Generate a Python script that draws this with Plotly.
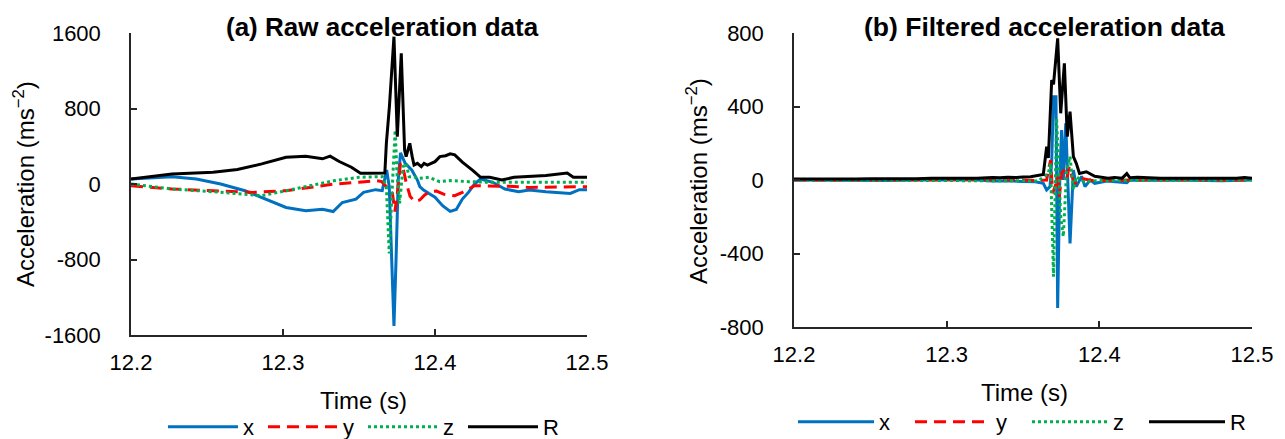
import plotly.graph_objects as go

# ---------------- data: (a) raw ----------------
t_R_a = [12.200, 12.227, 12.254, 12.270, 12.286, 12.302, 12.315, 12.326, 12.331, 12.337, 12.345, 12.351,
         12.355, 12.367, 12.368, 12.370, 12.373, 12.3745, 12.3752, 12.3778, 12.380, 12.381, 12.3834, 12.385,
         12.3862, 12.3884, 12.391, 12.3928, 12.395, 12.400, 12.4032, 12.407, 12.410, 12.413, 12.418, 12.425,
         12.430, 12.436, 12.444, 12.452, 12.462, 12.473, 12.487, 12.491, 12.500]
R_a = [53, 107, 124, 153, 213, 284, 295, 267, 295, 238, 178, 114,
       114, 117, 431, 820, 1561, 643, 501, 1385, 360, 290, 431, 290,
       201, 219, 184, 219, 201, 237, 290, 300, 320, 309, 231, 142,
       71, 71, 43, 71, 78, 89, 117, 71, 71]

t_x_a = [12.200, 12.227, 12.243, 12.259, 12.275, 12.288, 12.302, 12.315, 12.326, 12.333, 12.339, 12.348,
         12.353, 12.361, 12.3653, 12.3682, 12.3699, 12.3716, 12.373, 12.3743, 12.3758, 12.3773, 12.3804,
         12.3847, 12.3884, 12.390, 12.3925, 12.3958, 12.400, 12.405, 12.410, 12.414, 12.418, 12.422, 12.426,
         12.430, 12.438, 12.446, 12.455, 12.462, 12.473, 12.489, 12.495, 12.500]
x_a = [53, 78, 53, 0, -71, -160, -249, -284, -267, -292, -196, -160,
       -89, -60, -70, 148, -28, -841, -1505, -841, 42, 329, 219,
       148, 42, -28, -64, -99, -140, -230, -290, -270, -160, -89, 0,
       53, 18, -53, -82, -64, -82, -100, -60, -60]

t_y_a = [12.200, 12.227, 12.254, 12.280, 12.302, 12.318, 12.334, 12.350, 12.361, 12.365, 12.3703, 12.372,
         12.3736, 12.375, 12.3773, 12.3788, 12.3809, 12.3836, 12.3866, 12.390, 12.3932, 12.397, 12.401,
         12.406, 12.413, 12.418, 12.426, 12.436, 12.449, 12.462, 12.484, 12.500]
y_a = [-18, -53, -71, -89, -71, -36, 0, 18, 36, 25, -64, -99,
       -293, -130, 219, 184, 25, -130, -187, -170, -117, -80, -75,
       -110, -124, -89, -18, -18, -25, -36, -28, -28]

t_z_a = [12.200, 12.227, 12.254, 12.275, 12.286, 12.302, 12.318, 12.334, 12.350, 12.3653, 12.368, 12.3699,
         12.3716, 12.3738, 12.375, 12.3767, 12.379, 12.3809, 12.383, 12.386, 12.390, 12.396, 12.403, 12.410,
         12.422, 12.436, 12.462, 12.500]
z_a = [0, -53, -82, -107, -124, -71, -18, 36, 71, 78, -28, -735,
       -130, 572, 113, -205, 184, 219, 78, 78, 60, 71, 25, 36,
       25, 18, 18, 18]

# ---------------- data: (b) filtered ----------------
t_R_b = [12.200, 12.210, 12.220, 12.230, 12.240, 12.250, 12.260, 12.270, 12.280, 12.290, 12.300, 12.310,
         12.320, 12.330, 12.335, 12.340, 12.345, 12.350, 12.355, 12.3633, 12.3655, 12.3666, 12.3688, 12.370,
         12.3727, 12.3747, 12.3771, 12.379, 12.3808, 12.383, 12.3849, 12.387, 12.3915, 12.397, 12.4057,
         12.410, 12.415, 12.418, 12.420, 12.425, 12.430, 12.440, 12.450, 12.460, 12.470, 12.480, 12.490,
         12.495, 12.500]
R_b = [6, 5, 7, 6, 5, 7, 6, 8, 7, 9, 8, 9,
       10, 14, 12, 15, 13, 16, 18, 30, 181, 120, 544, 520,
       771, 363, 635, 236, 372, 127, 91, 36, 45, 20, 10,
       14, 10, 35, 12, 15, 12, 10, 9, 10, 8, 9, 9,
       14, 9]

t_x_b = [12.200, 12.220, 12.240, 12.260, 12.280, 12.300, 12.320, 12.330, 12.340, 12.350, 12.358, 12.3633,
         12.3655, 12.3677, 12.3688, 12.370, 12.3716, 12.3727, 12.3742, 12.3753, 12.3764, 12.378, 12.3808,
         12.383, 12.3849, 12.3884, 12.3906, 12.394, 12.397, 12.405, 12.418, 12.420, 12.440, 12.460, 12.480,
         12.500]
x_b = [0, -2, 0, -3, 0, -2, 0, -6, -4, -8, -10, -18,
       -54, -36, 100, 453, 453, -697, 54, 272, 0, 308, -345,
       54, -36, 20, -36, 0, -18, -5, -15, 0, -3, -2, -4,
       0]

t_z_b = [12.200, 12.250, 12.300, 12.340, 12.360, 12.3666, 12.368, 12.370, 12.372, 12.3747, 12.3764,
         12.3786, 12.3808, 12.383, 12.3849, 12.390, 12.400, 12.450, 12.500]
z_b = [0, -2, 0, -3, -5, 36, 91, -526, 336, -200, -308,
       54, 127, -54, 18, -10, -3, -2, 0]

t_y_b = [12.200, 12.250, 12.300, 12.340, 12.360, 12.3655, 12.3666, 12.3681, 12.3694, 12.371, 12.3727,
         12.3738, 12.3753, 12.3769, 12.3786, 12.3803, 12.382, 12.3845, 12.388, 12.395, 12.420, 12.450, 12.500]
y_b = [0, 2, 0, 3, -3, 0, 54, 109, -72, -36, 18,
       -91, 36, 54, 9, 72, 18, -18, 9, -3, 0, 2, 0]

series_names = ["x", "y", "z", "R"]
x_ticks = [12.2, 12.3, 12.4, 12.5]
y_ticks_a = [-1600, -800, 0, 800, 1600]
y_ticks_b = [-800, -400, 0, 400, 800]
titles = ["(a) Raw acceleration data", "(b) Filtered acceleration data"]

# ---------------- styles ----------------
FONT = "Arial, Liberation Sans, sans-serif"
AXIS_COLOR = "#262626"
styles = {
    "x": dict(color="#0070C0", width=3, dash="solid"),
    "y": dict(color="#FF0000", width=3, dash="12px,7px"),
    "z": dict(color="#00B050", width=3, dash="3px,3px"),
    "R": dict(color="#000000", width=3, dash="solid"),
}

# the page body has an 8 px margin: the figure is sized to fill the rest of the window
OFF = 8
W, H = 1285 - OFF, 439 - OFF
def px(sx):
    return (sx - OFF) / W
def py(sy):
    return 1 - (sy - OFF) / H

fig = go.Figure()

panels = [
    ("x", "y", "legend", [(t_x_a, x_a), (t_y_a, y_a), (t_z_a, z_a), (t_R_a, R_a)]),
    ("x2", "y2", "legend2", [(t_x_b, x_b), (t_y_b, y_b), (t_z_b, z_b), (t_R_b, R_b)]),
]
for xa, ya, lg, data in panels:
    for name, (tt, vv) in zip(series_names, data):
        fig.add_trace(go.Scatter(x=tt, y=vv, mode="lines", name=name, xaxis=xa, yaxis=ya,
                                 legend=lg, line=styles[name]))

axis_common = dict(showline=True, linecolor=AXIS_COLOR, linewidth=1.5, ticks="inside", ticklen=6,
                   tickcolor=AXIS_COLOR, tickwidth=1.5, showgrid=False, zeroline=False, automargin=False,
                   tickfont=dict(family=FONT, size=22, color="#000000"))

def labels(vals, fmt):
    return [fmt(v).replace("\u2212", "-") for v in vals]

fig.update_layout(
    width=W, height=H, margin=dict(l=0, r=0, t=0, b=0, autoexpand=False),
    paper_bgcolor="white", plot_bgcolor="white",
    font=dict(family=FONT, size=22, color="#000000"),
    xaxis=dict(domain=[px(131), px(587)], range=[12.2, 12.5], tickvals=x_ticks,
               ticktext=labels(x_ticks, lambda v: f"{v:.1f}"),
               anchor="y", ticklabelstandoff=7, **axis_common),
    yaxis=dict(domain=[py(335), py(33)], range=[-1600, 1600], tickvals=y_ticks_a,
               ticktext=labels(y_ticks_a, lambda v: f"{v:d}"), anchor="x",
               ticklabelstandoff=24, **axis_common),
    xaxis2=dict(domain=[px(794), px(1252)], range=[12.2, 12.5], tickvals=x_ticks,
                ticktext=labels(x_ticks, lambda v: f"{v:.1f}"),
                anchor="y2", ticklabelstandoff=7, **axis_common),
    yaxis2=dict(domain=[py(327), py(33)], range=[-800, 800], tickvals=y_ticks_b,
                ticktext=labels(y_ticks_b, lambda v: f"{v:d}"), anchor="x2",
                ticklabelstandoff=24, **axis_common),
    legend=dict(orientation="h", x=px(163), y=py(427), xanchor="left", yanchor="middle",
                font=dict(family=FONT, size=22), itemwidth=70, bgcolor="rgba(0,0,0,0)",
                entrywidth=15, tracegroupgap=0),
    legend2=dict(orientation="h", x=px(793), y=py(422), xanchor="left", yanchor="middle",
                 font=dict(family=FONT, size=22), itemwidth=76, bgcolor="rgba(0,0,0,0)",
                 entrywidth=26, tracegroupgap=0),
    showlegend=True,
)

ann = []
# panel titles
ann.append(dict(text=f"<b>{titles[0]}</b>", x=px(383), y=py(27), xref="paper", yref="paper",
                showarrow=False, font=dict(family=FONT, size=26), xanchor="center", yanchor="middle"))
ann.append(dict(text=f"<b>{titles[1]}</b>", x=px(1044), y=py(27), xref="paper", yref="paper",
                showarrow=False, font=dict(family=FONT, size=26.5), xanchor="center", yanchor="middle"))
# axis titles
for xc, yc in [(363, 400), (1024, 392)]:
    ann.append(dict(text="Time (s)", x=px(xc), y=py(yc), xref="paper", yref="paper", showarrow=False,
                    font=dict(family=FONT, size=24), xanchor="center", yanchor="middle"))
for xc, yc in [(24, 184), (697, 181)]:
    ann.append(dict(text="Acceleration (ms<sup>−2</sup>)", x=px(xc), y=py(yc), xref="paper", yref="paper",
                    showarrow=False, textangle=-90, font=dict(family=FONT, size=24),
                    xanchor="center", yanchor="middle"))
fig.update_layout(annotations=ann)

fig.write_html("out.html")
